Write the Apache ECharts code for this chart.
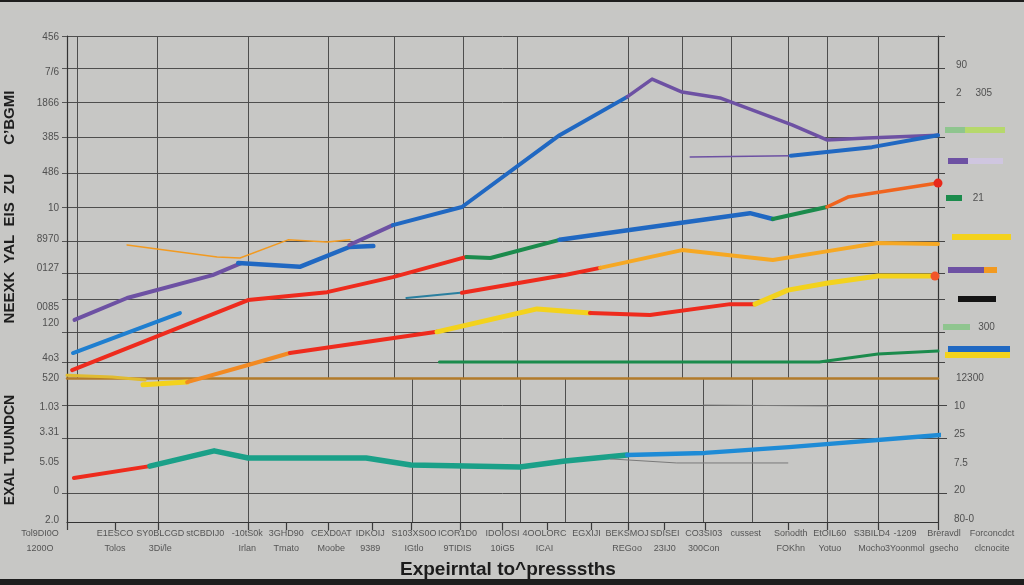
<!DOCTYPE html>
<html><head><meta charset="utf-8">
<script src="https://cdn.jsdelivr.net/npm/echarts@6/dist/echarts.min.js"></script>
<style>
html,body{margin:0;padding:0;background:#1e1e1e;width:1024px;height:585px;overflow:hidden}
#chart{position:absolute;left:0;top:2px;width:1024px;height:577px}
</style></head><body><div id="chart"></div>
<script>
// ---------- tick labels ----------
const xLabels = ['Tol9DI0O\n1200O','E1ESCO\nTolos','SY0BLCGD\n3Di/le','stCBDIJ0','-10tS0k\nIrlan','3GHD90\nTmato','CEXD0AT\nMoobe','IDKOIJ\n9389','S103XS0O\nIGtlo','ICOR1D0\n9TIDIS','IDOIOSI\n10iG5','4OOLORC\nICAI','EGXIJI','BEKSMOJ\nREGoo','SDISEI\n23IJ0','CO3SI03\n300Con','cussest','Sonodth\nFOKhn','EtOIL60\nYotuo','S3BILD4\nMocho','-1209\n3Yoonmol','Breravdl\ngsecho','Forconcdct\nclcnocite'];
const xLabelAt = [-0.9,1.6,3.1,4.6,6.0,7.3,8.8,10.1,11.55,13.0,14.5,15.9,17.3,18.65,19.9,21.2,22.6,24.1,25.4,26.8,27.9,29.2,30.8];
const xTickAt = [0,1.6,3.03,6.03,7.3,8.7,10.15,11.45,13.1,14.5,16.0,17.45,18.7,19.9,21.25,24.0,25.3,27.0,29.0];
const gridPeriodsTop = [0,0.33,3,6.03,8.7,10.9,13.2,15,18.7,20.5,22.1,24,25.3,27,29];
const gridPeriodsBottom = [0,3.03,6.03,11.5,13.1,15.1,16.6,18.7,21.2,22.8,25.3,27,29];
const topLeftTickLabels = ['520','4o3','120','0085','0127','8970','10','486','385','1866','7/6','456'];
const topLeftTickAt = [0,5.8,16,20.8,32,40.5,49.7,60.2,70.3,80.4,89.5,99.7];
const topGridAt = [4.5,13.5,23,30.5,40,50,60,70.5,80.5,90.5,100];
const topRightTickLabels = ['12300','        300','      21','2     305','90'];
const topRightTickAt = [0,14.9,52.6,83.3,91.5];
const botLeftTickLabels = ['2.0','0','5.05','3.31','1.03'];
const botLeftTickAt = [0.07,1.08,2.08,3.13,4.0];
const botRightTickLabels = ['80-0','20','7.5','25','10'];
const botRightTickAt = [0.1,1.1,2.05,3.05,4.03];
const botGridAt = [1,2.9,4.05];

// ---------- series values: [period, value] ----------
const purpleRise   = [[0.25,17],[2,23.4],[4.85,30.1],[5.8,33.6]];
const blueDip      = [[5.7,33.6],[7.75,32.5],[9.4,38.3],[10.2,38.6]];
const purpleStep   = [[9.4,38.9],[10.85,44.7]];
const blueClimb    = [[10.85,44.7],[13.15,50],[16.4,71],[18.65,82.2]];
const purplePeak   = [[18.65,82.2],[19.48,87.4],[20.48,83.6],[21.74,81.9],[24.14,74],[25.3,69.6],[26.64,70.2],[29,71]];
const purpleTail   = [[20.75,64.6],[24.1,65.0]];
const blueBranch   = [[24.1,65],[26.8,67.5],[29,71]];
const orangeThin   = [[2,38.9],[5,35.4],[5.76,35.1],[7.36,40.4],[8.66,39.8],[9.42,40.4]];
const redUpper     = [[0.17,2.3],[6.03,22.8],[8.66,25.1],[10.85,29.5],[13.3,35.4]];
const greenUpper   = [[13.3,35.4],[14.1,35.1],[16.4,40.4]];
const blueMiddle   = [[16.4,40.4],[20.4,45.3],[22.74,48.2],[23.5,46.5]];
const greenUpper2  = [[23.5,46.5],[25.3,50]];
const orangeUpper  = [[25.3,50],[26,52.9],[29,57]];
const blueShort    = [[0.2,7.3],[2,13.2],[3.76,19]];
const tealThin     = [[11.3,23.4],[13.1,24.9]];
const redMiddle    = [[13.15,24.9],[16.58,30.1],[17.75,32.2]];
const orangeMiddle = [[17.75,32.2],[20.48,37.4],[23.5,34.5],[25.34,37.1],[27,39.5],[29,39.2]];
const yellowLow    = [[2.53,-2],[4,-1.2]];
const orangeLow    = [[4,-1.2],[6.03,3.8],[7.42,7.3]];
const redLow       = [[7.42,7.3],[12.32,13.5]];
const yellowLow2   = [[12.32,13.5],[15.65,20.2],[17.41,19]];
const redLow2      = [[17.41,19],[19.41,18.4],[22.08,21.6],[22.91,21.6]];
const yellowLow3   = [[22.91,21.6],[24,25.7],[25.34,27.8],[27,29.8],[28.9,29.8]];
const greenFlat    = [[12.4,4.7],[25.05,4.7],[27,7],[29,7.9]];
const yellowBase   = [[0,0.8],[1.5,0.3],[2.6,-0.6]];
// lower panel
const redBottom    = [[0.23,1.53],[2.76,1.94]];
const tealBottom   = [[2.76,1.94],[4.9,2.47],[6.03,2.22],[9.96,2.22],[11.45,1.98],[15.08,1.91],[16.58,2.12],[18.65,2.33]];
const blueBottom   = [[18.65,2.33],[21.24,2.4],[24.04,2.6],[29.07,3.02]];
const greyThin1    = [[18.1,2.19],[20.3,2.05],[24,2.05]];
const greyThin2    = [[21.2,4.06],[25.4,4.03]];

// ---------- styling ----------
const C = {Purple:'#6d51a3', Blue:'#2068c2', Red:'#ee2b1d', Orange:'#f29a20', Yellow:'#f3d21c', Green:'#1b8b4c', Teal:'#1aa088', Grey:'#7a7a7a', Lime:'#b6d86c', Mint:'#8fc58f', Lavender:'#cfc6e0', Black:'#141414'};
const segs = [
  [purpleRise,'Purple',0,4],[blueDip,'Blue',0,4.5],[purpleStep,'Purple',0,4],[blueClimb,'Blue',0,4],
  [purplePeak,'Purple',0,3.5],[purpleTail,'Purple',0,1.5],[blueBranch,'Blue',0,4],[orangeThin,'Orange',0,1.5],
  [redUpper,'Red',0,4],[greenUpper,'Green',0,4],[blueMiddle,'Blue',0,4.5],[greenUpper2,'Green',0,4],
  [orangeUpper,'Orange',0,3.5,'#f0641e','#e8281a'],[blueShort,'Blue',0,4,'#1f7fd0'],[tealThin,'Teal',0,2,'#2a7f9f'],
  [redMiddle,'Red',0,4],[orangeMiddle,'Orange',0,4,'#f6a823'],[yellowLow,'Yellow',0,5],[orangeLow,'Orange',0,4,'#f28a22'],
  [redLow,'Red',0,4],[yellowLow2,'Yellow',0,5],[redLow2,'Red',0,4],[yellowLow3,'Yellow',0,5,null,'#f2552a'],
  [greenFlat,'Green',0,3],[yellowBase,'Yellow',0,3,'#e0bb30'],
  [redBottom,'Red',1,4],[tealBottom,'Teal',1,5.5],[blueBottom,'Blue',1,4.5,'#1e8bd6'],
  [greyThin1,'Grey',1,1],[greyThin2,'Grey',1,1]
];
const series = segs.map(([d,name,g,w,col,dot]) => ({
  type:'line', name, xAxisIndex:g, yAxisIndex:g===0?0:2, data:d, clip:false,
  color: col || C[name], smooth:false, silent:true,
  showSymbol: !!dot, symbol:'circle',
  symbolSize: (v,p) => (dot && p.dataIndex === d.length-1) ? 9 : 0,
  itemStyle:{color: dot || col || C[name]},
  lineStyle:{width:w, cap:'round', join:'round', color: col || C[name]}
}));
['Lime','Mint','Lavender','Black'].forEach(n => series.push({type:'line', name:n, data:[], color:C[n], xAxisIndex:0, yAxisIndex:0}));

// legend swatch layout (absolute px)
const swatches = [
  ['Mint',945,130,20],['Lime',965,130,40],['Purple',948,161,20],['Lavender',968,161,35],['Green',946,198,16],
  ['Yellow',952,237,59],['Purple',948,270,36],['Orange',984,270,13],['Black',958,299,38],['Mint',943,327,27],
  ['Blue',948,349,62],['Yellow',945,355,65]
];
const legends = swatches.map(([n,x,y,w]) => ({
  data:[n], left:x, top:y-3-2, itemWidth:w, itemHeight:6, icon:'rect', padding:0, itemGap:0,
  selectedMode:false, formatter:()=>'', textStyle:{fontSize:1, lineHeight:1}
}));

function pick(vals, labels){ return v => { let b=0; for(let i=1;i<vals.length;i++) if(Math.abs(vals[i]-v)<Math.abs(vals[b]-v)) b=i; return labels[b]; }; }
const gridLine = {show:true, lineStyle:{color:'#4e4e4e', width:1}};
const axisTxt = {color:'#505050', fontSize:10, fontFamily:'Liberation Sans'};

const option = {
  backgroundColor:'#c7c7c5',
  animation:false,
  title:{text:'Expeirntal to^presssths', left:395, top:553, textStyle:{fontSize:19, fontWeight:'bold', color:'#1c1c1c', fontFamily:'Liberation Sans'}},
  legend: legends,
  grid:[
    {left:67, width:871, top:34, height:342, outerBoundsMode:'none', containLabel:false},
    {left:67, width:871, top:376, height:144, outerBoundsMode:'none', containLabel:false},
    {left:7, width:991, top:510, height:10, outerBoundsMode:'none', containLabel:false}
  ],
  xAxis:[
    {gridIndex:0, type:'value', min:0, max:29, axisLine:{show:true, onZero:false, lineStyle:{color:'#b27b2a', width:2.5}}, axisTick:{show:false, customValues:gridPeriodsTop}, axisLabel:{show:false}, splitLine:gridLine},
    {gridIndex:1, type:'value', min:0, max:29, axisLine:{show:true, onZero:false, lineStyle:{color:'#333', width:1.2}}, axisTick:{show:false, customValues:gridPeriodsBottom}, axisLabel:{show:false}, splitLine:gridLine},
    {gridIndex:2, type:'value', min:-2, max:31, position:'bottom', z:5, axisLine:{show:false, onZero:false}, axisTick:{show:true, inside:false, customValues:xTickAt, length:8, lineStyle:{color:'#3a3a3a', width:1.2}},
     axisLabel:Object.assign({}, axisTxt, {customValues:xLabelAt, formatter:pick(xLabelAt,xLabels), fontSize:9, lineHeight:15, margin:4, hideOverlap:false, color:'#555'}), splitLine:{show:false}}
  ],
  yAxis:[
    {gridIndex:0, type:'value', min:0, max:100, position:'left',
     name:'NEEXK  YAL  EIS  ZU       C\u2019BGMI', nameLocation:'middle', nameGap:50, nameRotate:90,
     nameTextStyle:{fontSize:15, fontWeight:'bold', color:'#1e1e1e', fontFamily:'Liberation Sans'},
     axisLine:{show:true, lineStyle:{color:'#333', width:1.2}}, axisTick:{show:true, customValues:topGridAt, length:5, lineStyle:{color:'#555'}},
     axisLabel:Object.assign({customValues:topLeftTickAt, formatter:pick(topLeftTickAt,topLeftTickLabels), margin:8}, axisTxt), splitLine:gridLine},
    {gridIndex:0, type:'value', min:0, max:100, position:'right',
     axisLine:{show:true, lineStyle:{color:'#333', width:1.2}}, axisTick:{show:true, customValues:topGridAt, length:7, lineStyle:{color:'#444'}},
     axisLabel:Object.assign({customValues:topRightTickAt, formatter:pick(topRightTickAt,topRightTickLabels), margin:18}, axisTxt), splitLine:{show:false}},
    {gridIndex:1, type:'value', min:0, max:5, position:'left',
     name:'EXAL TUUNDCN', nameLocation:'middle', nameGap:50, nameRotate:90,
     nameTextStyle:{fontSize:14, fontWeight:'bold', color:'#1e1e1e', fontFamily:'Liberation Sans'},
     axisLine:{show:true, lineStyle:{color:'#333', width:1.2}}, axisTick:{show:true, customValues:botGridAt, length:5, lineStyle:{color:'#555'}},
     axisLabel:Object.assign({customValues:botLeftTickAt, formatter:pick(botLeftTickAt,botLeftTickLabels), margin:8}, axisTxt), splitLine:gridLine},
    {gridIndex:1, type:'value', min:0, max:5, position:'right',
     axisLine:{show:true, lineStyle:{color:'#333', width:1.2}}, axisTick:{show:true, customValues:botGridAt, length:9, lineStyle:{color:'#444'}},
     axisLabel:Object.assign({customValues:botRightTickAt, formatter:pick(botRightTickAt,botRightTickLabels), margin:16}, axisTxt), splitLine:{show:false}},
    {gridIndex:2, type:'value', min:0, max:1, show:false}
  ],
  series
};
echarts.init(document.getElementById('chart')).setOption(option);
</script></body></html>
